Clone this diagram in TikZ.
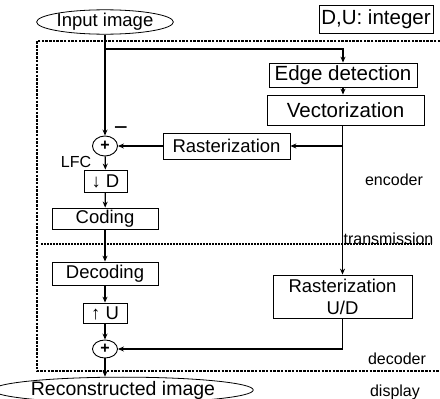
\documentclass[tikz,border=0pt]{standalone}
\usepackage{fontspec}
\setmainfont{Liberation Sans}
\usetikzlibrary{arrows.meta, shapes.geometric, positioning}
\tikzset{block/.style={draw, line width=0.8pt, inner sep=0pt, align=center, font=\fontsize{18.5}{22}\selectfont},
  big/.style={font=\fontsize{20.5}{22}\selectfont},
  io/.style={ellipse, draw, line width=0.8pt, inner sep=0pt, font=\fontsize{18.5}{22}\selectfont},
  adder/.style={ellipse, draw, line width=0.9pt, minimum width=25pt, minimum height=20pt, inner sep=0pt, font=\bfseries\fontsize{16}{16}\selectfont},
  tag/.style={inner sep=0pt, font=\fontsize{16}{16}\selectfont},
  flow/.style={line width=1.3pt, -{Stealth[length=6pt,width=5pt]}},
  frame/.style={line width=1.2pt, dash pattern=on 2.5pt off 1.2pt},
  cut/.style={line width=2pt, dash pattern=on 2pt off 1pt}}

\begin{document}
\begin{tikzpicture}[x=1pt, y=-1pt]
    \useasboundingbox (0,0) rectangle (440,399);
    % encoder / decoder frame
    \draw[frame] (440,41) -- (37,41) -- (37,371) -- (440,371);
    \draw[cut] (41,244) -- (432,244);

    \node[io, minimum width=127pt, minimum height=21pt] (input) at (105,22) {Input image};
    \node[block, big, minimum width=114pt, minimum height=28pt] (note) at (376,19) {D,U: integer};
    \node[block, big, minimum width=148pt, minimum height=24pt] (edge) at (343,75) {Edge detection};
    \node[block, big, minimum width=157pt, minimum height=30pt] (vect) at (345.5,110) {Vectorization};
    \node[block, minimum width=127pt, minimum height=26pt] (rast) at (226.5,146) {Rasterization};
    \node[adder] (sum-enc) at (105,146) {+};
    \node[block, minimum width=43pt, minimum height=22pt] (down) at (105.5,181) {↓ D};
    \node[block, minimum width=106pt, minimum height=21pt] (coding) at (105,218.5) {Coding};
    \node[block, minimum width=106pt, minimum height=23pt] (decoding) at (105,273.5) {Decoding};
    \node[block, minimum width=44pt, minimum height=20pt] (up) at (105,313) {↑ U};
    \node[adder, minimum height=18pt] (sum-dec) at (105,349) {+};
    \node[block, minimum width=139pt, minimum height=43pt] (rast-ud) at (342.5,296.5) {Rasterization\\U/D};
    \node[io, minimum width=232pt, minimum height=24pt, font=\fontsize{19.5}{22}\selectfont] (recon) at (123,390) {Reconstructed image};

    \node[tag, font=\fontsize{24}{24}\selectfont] (minus) at (121,131) {−};
    \node[tag] (lfc) at (76,162) {LFC};
    \node[tag] (enc) at (394,180) {encoder};
    \node[tag] (trans) at (388.5,239) {transmission};
    \node[tag] (dec) at (397,359) {decoder};
    \node[tag] (disp) at (395,392) {display};

    \coordinate (split) at (105,49);
    \coordinate (tap) at (343,146);

    \draw[flow] (input) -- (sum-enc);
    \draw[flow] (split) -| (edge);
    \draw[flow] (edge) -- (vect.north -| edge);
    \draw[flow] (vect.south -| rast-ud) -- (rast-ud);
    \draw[flow] (tap) -- (rast);
    \draw[flow] (rast) -- (sum-enc);
    \draw[flow] (sum-enc) -- (down);
    \draw[flow] (down) -- (coding);
    \draw[flow] (coding) -- (decoding);
    \draw[flow] (decoding) -- (up);
    \draw[flow] (up) -- (sum-dec);
    \draw[flow] (rast-ud.south) |- (sum-dec);
    \draw[flow] (sum-dec) -- (sum-dec |- recon.north);
\end{tikzpicture}
\end{document}
